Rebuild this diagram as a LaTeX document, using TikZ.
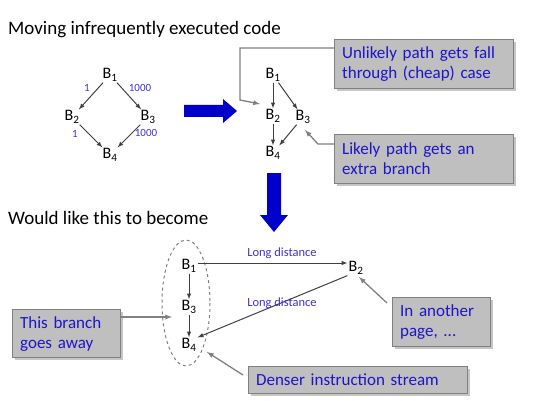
\documentclass[tikz,border=0pt]{standalone}
\usepackage{fontspec}
\setmainfont{Carlito}
\usetikzlibrary{arrows,shadows,calc}

\definecolor{boxgray}{RGB}{191,191,191}
\definecolor{linegray}{RGB}{128,128,128}
\definecolor{edgeblue}{RGB}{60,50,210}
\definecolor{noteblue}{RGB}{30,20,200}
\definecolor{fatblue}{RGB}{0,0,200}

\tikzset{
  blk/.style={inner sep=1pt, font=\fontsize{16}{16}\selectfont},
  flow/.style={-latex, draw=black!75, line width=1pt},
  wt/.style={text=edgeblue, font=\fontsize{11}{11}\selectfont, inner sep=0pt},
  far/.style={text=edgeblue, font=\fontsize{12.5}{12.5}\selectfont, inner sep=0pt},
  note/.style={draw=linegray, line width=1.3pt, fill=boxgray, text=noteblue,
    font=\fontsize{17}{20}\selectfont, align=left, anchor=north west,
    inner xsep=7pt, inner ysep=4pt,
    drop shadow={opacity=0.45, shadow xshift=2.5pt, shadow yshift=-2.5pt}},
  pointer/.style={-latex, draw=linegray, line width=1.3pt},
  title/.style={anchor=west, inner sep=0pt, font=\fontsize{19}{19}\selectfont}
}

\begin{document}
\begin{tikzpicture}[x=1pt, y=-1pt]
\useasboundingbox (0,0) rectangle (551,401);

% headings
\node[title] (head1) at (8,30) {Moving infrequently executed code};
\node[title] (head2) at (8,218) {Would like this to become};

% original layout
\node[blk] (a1) at (110,75) {B\textsubscript{1}};
\node[blk] (a2) at (72,117) {B\textsubscript{2}};
\node[blk] (a3) at (148,117) {B\textsubscript{3}};
\node[blk] (a4) at (110,155) {B\textsubscript{4}};
\draw[flow] (a1) -- (a2);
\draw[flow] (a1) -- (a3);
\draw[flow] (a2) -- (a4);
\draw[flow] (a3) -- (a4);
\node[wt] (w12) at (87,88) {1};
\node[wt] (w13) at (140,88) {1000};
\node[wt] (w24) at (75,134) {1};
\node[wt] (w34) at (146,133) {1000};

% fat arrows
\fill[fatblue] (184,105) -- (223,105) -- (223,99) -- (237,111) -- (223,123)
  -- (223,117) -- (184,117) -- cycle;
\fill[fatblue] (267,173) -- (281,173) -- (281,215) -- (288,215) -- (274,232)
  -- (260,215) -- (267,215) -- cycle;

% after first move
\node[blk] (b1) at (273,75) {B\textsubscript{1}};
\node[blk] (b2) at (273,116) {B\textsubscript{2}};
\node[blk] (b3) at (303,117) {B\textsubscript{3}};
\node[blk] (b4) at (273,153) {B\textsubscript{4}};
\draw[flow] (b1) -- (b2);
\draw[flow] (b1) -- (b3);
\draw[flow] (b2) -- (b4);
\draw[flow] (b3) -- (b4);

\node[note, minimum width=179pt, minimum height=49pt, text width=164pt] (n1)
  at (334,39) {Unlikely path gets fall\\through (cheap) case};
\node[note, minimum width=179pt, minimum height=49pt, text width=164pt] (n2)
  at (334,134) {Likely path gets an\\extra branch};
\draw[pointer] (n1.west |- 0,48) -- (240,48) -- (240,100) -- (260,104);
\draw[pointer] (n2.west |- 0,144) -- (318,144) -- (305,130);

% final layout
\draw[linegray, dashed, line width=1pt] (186,303) ellipse (24 and 63);
\node[blk] (c1) at (189,266) {B\textsubscript{1}};
\node[blk] (c3) at (189,307) {B\textsubscript{3}};
\node[blk] (c4) at (189,345) {B\textsubscript{4}};
\node[blk] (c2) at (356,268) {B\textsubscript{2}};
\draw[flow] (c1) -- (c3);
\draw[flow] (c3) -- (c4);
\draw[flow] (c1.east |- 0,263) -- (c2.west |- 0,263);
\draw[flow] (c2.south west) -- (c4.north east);
\node[far] (far1) at (282,253) {Long distance};
\node[far] (far2) at (282,303) {Long distance};

\node[note, minimum width=108pt, minimum height=48pt, text width=93pt] (n3)
  at (12,309) {This branch\\goes away};
\node[note, minimum width=98pt, minimum height=49pt, text width=83pt] (n4)
  at (392,297) {In another\\page, ...};
\node[note, minimum width=219pt, minimum height=27pt, text width=204pt] (n5)
  at (248,366) {Denser instruction stream};
\draw[pointer] (n3.east |- 0,317) -- (172,317);
\draw[pointer] (387,303) -- (359,277);
\draw[pointer] (243,375) -- (207,352);
\end{tikzpicture}
\end{document}
